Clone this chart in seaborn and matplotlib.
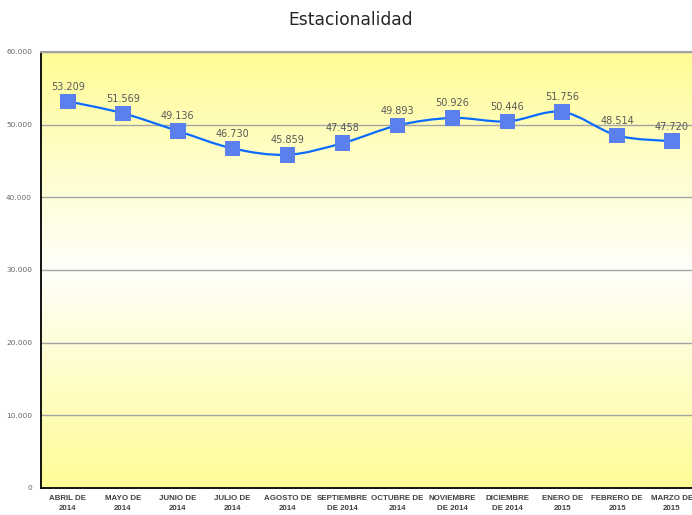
import numpy as np
import pandas as pd
import matplotlib
matplotlib.use("Agg")
import matplotlib.pyplot as plt
from matplotlib.path import Path
from matplotlib.patches import PathPatch
from matplotlib.colors import LinearSegmentedColormap
import seaborn as sns

categories = ["ABRIL DE\n2014", "MAYO DE\n2014", "JUNIO DE\n2014", "JULIO DE\n2014",
              "AGOSTO DE\n2014", "SEPTIEMBRE\nDE 2014", "OCTUBRE DE\n2014", "NOVIEMBRE\nDE 2014",
              "DICIEMBRE\nDE 2014", "ENERO DE\n2015", "FEBRERO DE\n2015", "MARZO DE\n2015"]
values = [53209, 51569, 49136, 46730, 45859, 47458, 49893, 50926, 50446, 51756, 48514, 47720]
value_labels = ["53.209", "51.569", "49.136", "46.730", "45.859", "47.458",
                "49.893", "50.926", "50.446", "51.756", "48.514", "47.720"]
ytick_values = [0, 10000, 20000, 30000, 40000, 50000, 60000]
ytick_labels = ["0", "10.000", "20.000", "30.000", "40.000", "50.000", "60.000"]

sns.set_style("white")
plt.rcParams['font.family'] = ['DejaVu Sans']

fig = plt.figure(figsize=(6.92, 5.15), dpi=100)
ax = fig.add_axes([40.5 / 692, 27 / 515, 659 / 692, 436 / 515])

df = pd.DataFrame({"x": np.arange(len(values)), "y": values})

# background gradient: yellow top -> white middle -> yellow bottom
cmap = LinearSegmentedColormap.from_list("bg", ["#FFFC96", "#FFFFFB", "#FFFC96"])
grad = np.linspace(0, 1, 256).reshape(-1, 1)
ax.imshow(grad, aspect="auto", cmap=cmap, extent=(-0.5, 11.5, 0, 60000),
          origin="upper", zorder=0)

for yv in ytick_values[1:]:
    ax.axhline(yv, color="#A3A3A3", lw=1.0, zorder=1)

# smooth (Catmull-Rom style) curve through the data
xs = df["x"].to_numpy(dtype=float)
ys = df["y"].to_numpy(dtype=float)
verts = [(xs[0], ys[0])]
codes = [Path.MOVETO]
t = 1 / 6
for i in range(len(xs) - 1):
    p0 = (xs[max(i - 1, 0)], ys[max(i - 1, 0)])
    p1 = (xs[i], ys[i])
    p2 = (xs[i + 1], ys[i + 1])
    p3 = (xs[min(i + 2, len(xs) - 1)], ys[min(i + 2, len(xs) - 1)])
    c1 = (p1[0] + (p2[0] - p0[0]) * t, p1[1] + (p2[1] - p0[1]) * t)
    c2 = (p2[0] - (p3[0] - p1[0]) * t, p2[1] - (p3[1] - p1[1]) * t)
    verts += [c1, c2, p2]
    codes += [Path.CURVE4] * 3
ax.add_patch(PathPatch(Path(verts, codes), facecolor="none", edgecolor="#0A6BFF",
                       lw=1.6, zorder=3))

sns.scatterplot(data=df, x="x", y="y", marker="s", s=125, color="#5B80EE",
                edgecolor="none", zorder=4, ax=ax, legend=False)

for xi, yi, lab in zip(xs, ys, value_labels):
    ax.annotate(lab, (xi, yi), xytext=(0, 7), textcoords="offset points",
                ha="center", va="bottom", fontsize=7, color="#595959", zorder=5)

ax.set_xlim(-0.5, 11.5)
ax.set_ylim(0, 60000)
ax.set_xticks(np.arange(len(categories)))
ax.set_xticklabels(categories, fontsize=5.7, fontweight="bold", color="#404040",
                   family=["Liberation Sans"], linespacing=1.55)
ax.set_yticks(ytick_values)
ax.set_yticklabels(ytick_labels, fontsize=5.3, color="#666666")
ax.tick_params(axis="both", length=0, pad=6)
ax.tick_params(axis="x", pad=5)
ax.set_xlabel("")
ax.set_ylabel("")

for s in ["left", "bottom"]:
    ax.spines[s].set_visible(True)
    ax.spines[s].set_color("black")
    ax.spines[s].set_linewidth(1.3)
ax.spines["top"].set_visible(True)
ax.spines["top"].set_color("#A0A0A0")
ax.spines["top"].set_linewidth(1.5)
ax.spines["right"].set_visible(False)

fig.text(351 / 692, 1 - 20 / 515, "Estacionalidad", ha="center", va="center",
         fontsize=12.3, color="#262626")

fig.savefig("out.png", dpi=100)
